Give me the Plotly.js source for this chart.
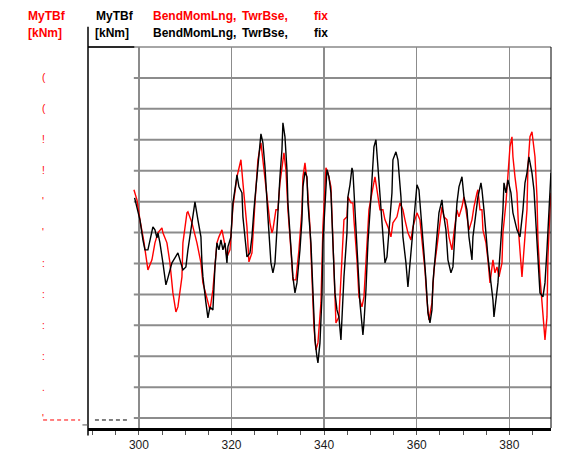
<!DOCTYPE html>
<html>
<head>
<meta charset="utf-8">
<script src="https://cdn.plot.ly/plotly-3.0.1.min.js"></script>
<style>html,body{margin:0;padding:0;background:#fff;}#chart{width:571px;height:463px;}</style>
</head>
<body>
<div id="chart"></div>
<script>
// Time [s] and MyTBf [kNm]
const blackT = [
299.07,300.22,300.86,301.30,301.94,302.38,302.81,303.02,303.46,303.89,
304.10,304.54,305.18,305.83,306.26,307.13,307.78,308.42,308.86,309.50,
310.15,310.58,311.45,312.10,312.74,313.39,313.61,313.82,314.47,314.90,
315.34,315.98,316.42,316.85,317.28,317.71,318.14,318.58,319.01,319.22,
319.87,320.30,320.95,321.17,321.60,322.25,322.46,323.11,323.33,323.98,
324.41,324.84,325.49,325.92,326.35,326.78,327.22,327.86,328.51,328.94,
329.38,329.81,330.02,330.46,330.89,331.10,331.54,331.97,332.18,332.83,
333.26,333.70,334.13,334.78,335.21,335.42,335.86,336.29,336.50,337.15,
337.58,338.02,338.45,338.66,339.10,339.53,339.74,340.18,340.61,341.04,
341.47,341.90,342.34,342.77,343.20,343.63,343.85,344.28,344.93,345.14,
345.58,346.01,346.22,346.66,347.09,347.74,348.38,348.60,349.03,349.46,
350.11,350.54,350.76,351.19,351.41,352.06,352.70,353.14,353.57,354.00,
354.65,354.86,355.51,355.94,356.59,357.02,357.67,358.10,358.75,359.18,
359.62,360.05,360.48,361.13,361.56,361.99,362.42,362.86,363.29,363.50,
363.94,364.37,364.80,365.45,365.66,366.31,366.74,367.39,367.82,368.26,
368.69,369.12,369.77,370.20,370.85,371.28,371.93,372.14,372.79,373.22,
373.87,374.09,374.52,374.95,375.38,376.03,376.46,376.68,377.11,377.54,
378.19,378.62,378.84,379.27,379.70,380.35,380.78,381.22,381.65,382.30,
382.94,383.38,383.81,384.24,384.89,385.32,385.75,386.18,386.62,387.26,
387.70,388.13,388.56,388.99];
const blackV = [
1123,411,-236,-560,-560,-236,87,184,87,-172,
-10,-333,-981,-1692,-1466,-981,-819,-657,-883,-1207,
-1110,-560,314,993,411,-139,-981,-1434,-2275,-2760,
-2404,-2501,-1110,-333,-560,-236,-560,-333,-981,-463,
-139,961,1608,1867,1479,1285,508,-333,-786,-657,
-139,735,1802,2676,3194,2903,2126,508,-981,-1304,
-981,87,735,1802,2676,3550,3097,2029,961,-333,
-1434,-1951,-1628,-560,411,1479,1964,1802,961,-333,
-2081,-3472,-4022,-4217,-3569,-2081,-333,735,2029,1802,
1285,-333,-1951,-2501,-2728,-3472,-2599,-1434,-10,1155,
1544,2094,1964,735,-883,-2275,-3310,-2922,-1854,-333,
1155,2579,2773,3000,2579,1285,-139,-981,-786,87,
1285,2353,2611,2353,1155,-139,-981,-1757,-560,87,
832,1544,1382,314,-657,-1531,-2599,-2922,-2501,-1628,
-786,87,637,1058,735,87,-883,-1304,-1110,-10,
961,1479,1802,1155,735,-139,-883,-139,735,1155,
1608,1382,735,-139,-786,-1628,-2178,-2728,-2081,-1628,
-236,735,1608,1285,1705,1285,637,314,87,-139,
735,1608,1932,2450,1932,1382,314,-981,-1951,-2081,
-1628,-560,735,1932];

const redT = [
298.92,299.57,300.22,301.08,301.94,302.81,303.46,304.10,304.97,305.18,
306.05,306.70,307.34,307.99,308.42,309.29,309.50,310.37,310.58,311.45,
312.53,313.39,313.82,314.69,315.34,315.98,316.85,317.28,317.93,318.36,
319.01,319.66,320.30,321.17,321.60,322.03,322.46,323.33,323.76,324.41,
325.06,325.70,326.35,326.78,327.65,328.30,328.73,328.94,329.59,330.02,
330.46,331.10,331.32,331.75,332.18,332.83,333.26,333.91,334.56,335.21,
335.42,335.86,336.29,336.94,337.37,337.80,338.23,338.66,339.31,339.74,
340.39,340.82,341.47,341.90,342.55,343.20,343.63,343.85,344.28,344.93,
345.14,345.79,346.22,346.44,347.09,347.52,348.17,348.60,349.25,349.68,
350.33,350.98,351.41,352.06,352.70,353.14,353.78,354.43,354.86,355.73,
356.38,357.02,357.46,358.10,358.75,359.18,360.05,360.70,361.34,361.78,
362.21,362.64,363.29,363.72,364.37,364.80,365.45,365.88,366.53,366.96,
367.61,368.04,368.69,369.12,369.77,370.20,370.85,371.28,371.93,372.36,
373.01,373.22,373.66,374.09,374.30,374.95,375.38,375.82,376.46,376.90,
377.33,377.76,378.41,378.62,379.27,379.70,380.14,380.57,380.78,381.22,
381.65,382.08,382.51,382.73,383.16,383.81,384.02,384.46,384.89,385.10,
385.54,385.97,386.18,386.62,387.05,387.26,387.70,388.13,388.34,388.78,
389.00];
const redV = [
1382,1058,411,-301,-1207,-883,-333,-10,152,-10,
-333,-981,-1951,-2566,-2404,-1434,-333,637,670,314,
-333,-981,-1628,-2178,-2501,-1854,-333,-139,87,-236,
-786,-560,832,1802,2126,2353,1608,184,-948,-657,
961,2353,2903,2353,1155,314,-10,87,735,735,
1608,2450,2579,2029,735,-560,-1531,-1531,-560,735,
1802,2255,1705,184,-1434,-3052,-3796,-3569,-2275,184,
2094,1932,1479,-333,-2922,-2728,-1628,-981,411,508,
1155,961,961,411,-883,-2081,-2404,-2081,-560,735,
1285,1802,1382,735,735,411,184,-139,314,508,
961,735,411,-10,-236,184,637,411,-560,-1207,
-2178,-2825,-2275,-1207,-463,87,832,508,411,-139,
-560,-10,735,508,832,1155,411,87,411,832,
1285,1382,735,735,87,-333,-883,-1628,-883,-1304,
-1110,-1434,-981,-10,961,2029,2773,3097,2450,1802,
1285,-139,-1207,-1434,-560,735,2126,3097,3259,3000,
2450,1155,-236,-1434,-2275,-2922,-3472,-2728,-786,735,
1285];

const xTickVals = [300, 320, 340, 360, 380];
const xTickText = ['300', '320', '340', '360', '380'];
const yGridVals = [-6000,-5000,-4000,-3000,-2000,-1000,0,1000,2000,3000,4000,5000];
// clipped red y tick label fragments as they appear in the reference
const yLabelVals = [5000,4000,3000,2000,1000,0,-1000,-2000,-3000,-4000,-5000,-6000];
const yLabelText = ['(', '(', '!', '!', "'", "'", ':', ':', ':', ':', '.', "'"];

const FONT = 'Liberation Sans, Arial, Helvetica, sans-serif';

const traces = [
  {x: redT, y: redV, type: 'scatter', mode: 'lines', line: {color: '#ff0000', width: 1.4}, hoverinfo: 'skip'},
  {x: blackT, y: blackV, type: 'scatter', mode: 'lines', line: {color: '#000000', width: 1.4}, hoverinfo: 'skip'}
];

const shapes = [];
yGridVals.forEach(v => shapes.push({type: 'line', xref: 'x', yref: 'y', x0: 298.9, x1: 389, y0: v, y1: v,
  line: {color: '#8c8c8c', width: 2}, layer: 'below'}));
// top border
shapes.push({type: 'line', xref: 'paper', yref: 'paper', x0: 0, x1: 1, y0: 1, y1: 1, line: {color: '#888', width: 1.5}});
shapes.push({type: 'line', xref: 'paper', yref: 'paper', x0: 0, x1: 0.1, y0: 1, y1: 1, line: {color: '#000', width: 1.5}});
// left axis line (extends above and below)
shapes.push({type: 'line', xref: 'paper', yref: 'paper', x0: 0, x1: 0, y0: -0.02, y1: 1.053, line: {color: '#000', width: 1.5}});
// right border
shapes.push({type: 'line', xref: 'paper', yref: 'paper', x0: 1, x1: 1, y0: 0, y1: 1, line: {color: '#000', width: 1}});
// small left tick at bottom
shapes.push({type: 'line', xref: 'paper', yref: 'paper', x0: -0.012, x1: 0, y0: 0.008, y1: 0.008, line: {color: '#555', width: 1}});
// dashed markers bottom left
shapes.push({type: 'line', xref: 'paper', yref: 'paper', x0: -0.097, x1: -0.017, y0: 0.021, y1: 0.021, line: {color: '#ff0000', width: 1, dash: '4px,3px'}});
shapes.push({type: 'line', xref: 'paper', yref: 'paper', x0: 0.015, x1: 0.088, y0: 0.021, y1: 0.021, line: {color: '#000', width: 1, dash: '4px,3px'}});

const annotations = [];
function txt(t, px, py, color, size, bold) {
  annotations.push({xref: 'paper', yref: 'paper', x: (px - 88) / 463, y: (428 - py) / 381,
    xanchor: 'left', yanchor: 'middle', showarrow: false, text: bold ? '<b>' + t + '</b>' : t,
    font: {family: FONT, size: size, color: color}});
}
txt('MyTBf', 26, 16, '#ff0000', 12, true);
txt('[kNm]', 26, 33, '#ff0000', 12, true);
txt('MyTBf', 94, 16, '#000', 12, true);
txt('[kNm]', 93, 33, '#000', 12, true);
txt('BendMomLng,', 151, 16, '#ff0000', 12, true);
txt('TwrBse,', 240, 16, '#ff0000', 12, true);
txt('fix', 312, 16, '#ff0000', 12, true);
txt('BendMomLng,', 151, 33, '#000', 12, true);
txt('TwrBse,', 240, 33, '#000', 12, true);
txt('fix', 312, 33, '#000', 12, true);
yLabelVals.forEach((v, i) => {
  annotations.push({xref: 'paper', yref: 'y', x: (40 - 88) / 463, y: v, xanchor: 'left', yanchor: 'middle',
    showarrow: false, text: yLabelText[i], font: {family: FONT, size: 10, color: '#ff0000'}});
});

const layout = {
  width: 571, height: 463,
  margin: {l: 88, r: 20, t: 47, b: 35, pad: 0},
  paper_bgcolor: '#fff', plot_bgcolor: '#fff',
  showlegend: false,
  xaxis: {
    range: [289, 389], tickmode: 'array', tickvals: xTickVals, ticktext: xTickText,
    showgrid: true, gridcolor: '#8c8c8c', gridwidth: 1.5, zeroline: false,
    showline: true, linecolor: '#000', linewidth: 3,
    ticks: 'outside', ticklen: 4, tickcolor: '#555', tickwidth: 1,
    tickfont: {family: FONT, size: 12, color: '#1a1a1a'},
    minor: {tick0: 290, dtick: 5, ticks: 'outside', ticklen: 4, tickcolor: '#555', showgrid: false}
  },
  yaxis: {
    range: [-6320, 6000], showticklabels: false, showgrid: false, zeroline: false, showline: false, ticks: ''
  },
  shapes: shapes,
  annotations: annotations
};

Plotly.newPlot('chart', traces, layout, {displayModeBar: false, staticPlot: true});
</script>
</body>
</html>
